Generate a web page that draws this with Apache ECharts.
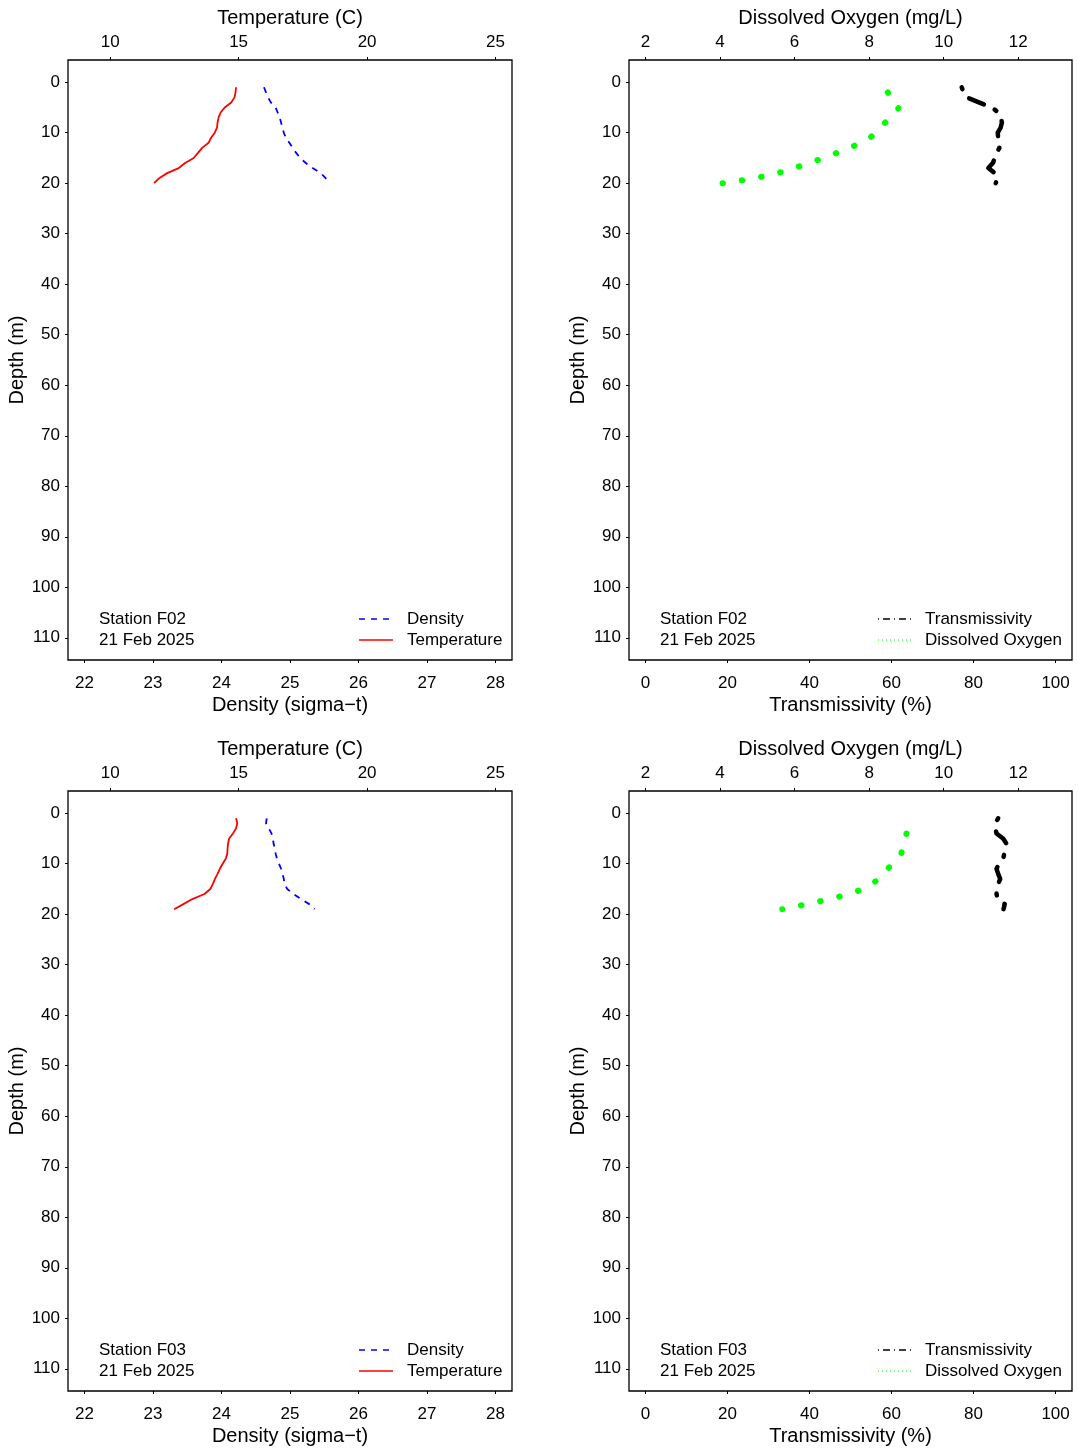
<!DOCTYPE html>
<html>
<head>
<meta charset="utf-8">
<script src="https://cdn.jsdelivr.net/npm/echarts@6/dist/echarts.min.js"></script>
<style>
html,body{margin:0;padding:0;background:#fff;}
#chart{width:1078px;height:1451px;}
</style>
</head>
<body>
<div id="chart"></div>
<script>
// ---- tick labels ----
const depthTicks = [0, 10, 20, 30, 40, 50, 60, 70, 80, 90, 100, 110];
const densityTicks = [22, 23, 24, 25, 26, 27, 28];
const tempTicks = [10, 15, 20, 25];
const transTicks = [0, 20, 40, 60, 80, 100];
const doTicks = [2, 4, 6, 8, 10, 12];

// ---- Station F02 ----
const f02Depth = [1, 2, 3, 4, 5, 6, 7, 8, 9, 10, 11, 12, 13, 14, 15, 16, 17, 18, 19, 20];
const f02Temp = [14.90, 14.88, 14.84, 14.71, 14.46, 14.30, 14.22, 14.18, 14.16, 14.07, 13.93, 13.83, 13.58, 13.42, 13.25, 12.92, 12.67, 12.22, 11.91, 11.71];
const f02Density = [24.62, 24.65, 24.68, 24.72, 24.79, 24.82, 24.85, 24.87, 24.89, 24.91, 24.94, 24.99, 25.04, 25.09, 25.15, 25.23, 25.33, 25.45, 25.52, 25.59];
const f02Trans = [77.1, 77.6, 78.3, 81.3, 84.4, 86.1, 86.7, 86.9, 86.6, 85.9, 86.0, 86.4, 86.3, 85.6, 85.2, 84.7, 83.6, 85.2, 85.9, 85.4];
const f02DoDepth = [2, 3, 4, 5, 6, 7, 8, 9, 10, 11, 12, 13, 14, 15, 16, 17, 18, 19, 20];
const f02DO = [8.50, 8.60, 8.70, 8.80, 8.70, 8.55, 8.43, 8.30, 8.18, 8.02, 7.78, 7.47, 7.13, 6.78, 6.40, 5.98, 5.55, 4.95, 4.07];

// ---- Station F03 ----
const f03Depth = [1, 2, 3, 4, 5, 6, 7, 8, 9, 10, 11, 12, 13, 14, 15, 16, 17, 18, 19];
const f03Temp = [14.90, 14.95, 14.90, 14.78, 14.63, 14.59, 14.57, 14.56, 14.50, 14.38, 14.27, 14.18, 14.08, 14.00, 13.90, 13.67, 13.20, 12.85, 12.49];
const f03Density = [24.66, 24.65, 24.69, 24.73, 24.75, 24.76, 24.78, 24.79, 24.81, 24.84, 24.87, 24.89, 24.91, 24.92, 24.96, 25.05, 25.16, 25.28, 25.36];
const f03Trans = [86.0, 85.3, 85.3, 85.6, 87.2, 88.0, 87.8, 87.5, 87.2, 86.2, 85.6, 86.0, 86.5, 86.0, 85.6, 85.6, 85.9, 87.6, 87.3];
const f03DoDepth = [4, 5, 6, 7, 8, 9, 10, 11, 12, 13, 14, 15, 16, 17, 18, 19];
const f03DO = [9.00, 8.98, 8.94, 8.90, 8.86, 8.74, 8.62, 8.50, 8.38, 8.26, 8.08, 7.84, 7.45, 6.95, 6.33, 5.67];

const stations = ['F02', 'F03'];
const surveyDate = '21 Feb 2025';

const FONT = '"Liberation Sans", Arial, Helvetica, sans-serif';
const pairs = (xs, ds) => xs.map((v, i) => [v, ds[i]]);

// extended ranges (4% padding as in R)
function ext(a, b) { const p = (b - a) * 0.04; return [a - p, b + p]; }
const depthR = ext(0, 110), densR = ext(22, 28), tempR = ext(9, 25), transR = ext(0, 100), doR = ext(2, 13);

const grids = [], xAxes = [], yAxes = [], series = [], graphics = [];

function xAxisDef(gi, pos, range, ticks, name) {
  return {
    type: 'value', gridIndex: gi, position: pos, min: range[0], max: range[1],
    name: name, nameLocation: 'middle', nameGap: pos === 'top' ? 32 : 35,
    nameTextStyle: { fontFamily: FONT, fontSize: 20, color: '#000' },
    axisLine: { show: false, onZero: false },
    axisTick: { show: true, inside: false, length: 3, customValues: ticks, lineStyle: { color: '#000', width: 1 } },
    axisLabel: { show: true, customValues: ticks, margin: pos === 'top' ? 9 : 15, fontFamily: FONT, fontSize: 17, color: '#000' },
    splitLine: { show: false }
  };
}
function yAxisDef(gi) {
  return {
    type: 'value', gridIndex: gi, position: 'left', inverse: true, min: depthR[0], max: depthR[1],
    name: 'Depth (m)', nameLocation: 'middle', nameGap: 38, nameRotate: 90,
    nameTextStyle: { fontFamily: FONT, fontSize: 20, color: '#000' },
    axisLine: { show: false, onZero: false },
    axisTick: { show: true, inside: false, length: 3, customValues: depthTicks, lineStyle: { color: '#000', width: 1 } },
    axisLabel: { show: true, customValues: depthTicks, margin: 8, fontFamily: FONT, fontSize: 17, color: '#000' },
    splitLine: { show: false }
  };
}
function text(x, y, s) {
  return { type: 'text', x: x, y: y, silent: true, style: { text: s, font: '17px ' + FONT, fill: '#000', align: 'left', verticalAlign: 'middle' } };
}
function legLine(x1, x2, y, color, width, dash) {
  return { type: 'line', silent: true, shape: { x1: x1, y1: y, x2: x2, y2: y }, style: { stroke: color, lineWidth: width, lineDash: dash || null } };
}

const panelTops = [60, 791];
const stationData = [
  { depth: f02Depth, temp: f02Temp, dens: f02Density, trans: f02Trans, doDepth: f02DoDepth, dox: f02DO },
  { depth: f03Depth, temp: f03Temp, dens: f03Density, trans: f03Trans, doDepth: f03DoDepth, dox: f03DO }
];

stationData.forEach((st, si) => {
  const top = panelTops[si];
  // left panel: density / temperature
  let gi = grids.length;
  grids.push({ left: 68, top: top, width: 444, height: 600, show: true, borderColor: '#000', borderWidth: 1.3, backgroundColor: 'transparent', containLabel: false });
  const xb = xAxes.length;
  xAxes.push(xAxisDef(gi, 'bottom', densR, densityTicks, 'Density (sigma\u2212t)'));
  xAxes.push(xAxisDef(gi, 'top', tempR, tempTicks, 'Temperature (C)'));
  const yi = yAxes.length;
  yAxes.push(yAxisDef(gi));
  series.push({ type: 'line', name: 'Density', xAxisIndex: xb, yAxisIndex: yi, data: pairs(st.dens, st.depth), symbol: 'none', lineStyle: { color: '#0000FF', width: 1.8, type: [6, 6] }, silent: true });
  series.push({ type: 'line', name: 'Temperature', xAxisIndex: xb + 1, yAxisIndex: yi, data: pairs(st.temp, st.depth), symbol: 'none', lineStyle: { color: '#FF0000', width: 1.8 }, silent: true });

  // right panel: transmissivity / dissolved oxygen
  gi = grids.length;
  grids.push({ left: 629, top: top, width: 443, height: 600, show: true, borderColor: '#000', borderWidth: 1.3, backgroundColor: 'transparent', containLabel: false });
  const xb2 = xAxes.length;
  xAxes.push(xAxisDef(gi, 'bottom', transR, transTicks, 'Transmissivity (%)'));
  xAxes.push(xAxisDef(gi, 'top', doR, doTicks, 'Dissolved Oxygen (mg/L)'));
  const yi2 = yAxes.length;
  yAxes.push(yAxisDef(gi));
  series.push({ type: 'line', name: 'Transmissivity', xAxisIndex: xb2, yAxisIndex: yi2, data: pairs(st.trans, st.depth), symbol: 'none', lineStyle: { color: '#000', width: 4.5, type: [2, 12, 16, 12], cap: 'round', join: 'round' }, silent: true });
  series.push({ type: 'line', name: 'Dissolved Oxygen', xAxisIndex: xb2 + 1, yAxisIndex: yi2, data: pairs(st.dox, st.doDepth), symbol: 'none', lineStyle: { color: '#00FF00', width: 6, type: [0.5, 19.1], cap: 'round', join: 'round' }, silent: true });

  // annotations / legends
  const y1 = top + 559, y2 = top + 580;
  graphics.push(text(99, y1, 'Station ' + stations[si]));
  graphics.push(text(99, y2, surveyDate));
  graphics.push(legLine(359, 393, y1, '#0000FF', 1.5, [6, 6]));
  graphics.push(legLine(359, 393, y2, '#FF0000', 1.5));
  graphics.push(text(407, y1, 'Density'));
  graphics.push(text(407, y2, 'Temperature'));

  graphics.push(text(660, y1, 'Station ' + stations[si]));
  graphics.push(text(660, y2, surveyDate));
  graphics.push(legLine(878, 911, y1, '#000000', 1.3, [1, 4, 7, 4]));
  graphics.push(legLine(878, 911, y2, '#00FF00', 1.2, [1, 3]));
  graphics.push(text(925, y1, 'Transmissivity'));
  graphics.push(text(925, y2, 'Dissolved Oxygen'));
});

const chart = echarts.init(document.getElementById('chart'), null, { renderer: 'canvas' });
chart.setOption({
  animation: false,
  backgroundColor: '#fff',
  textStyle: { fontFamily: FONT },
  grid: grids,
  xAxis: xAxes,
  yAxis: yAxes,
  series: series,
  graphic: graphics
});
</script>
</body>
</html>
